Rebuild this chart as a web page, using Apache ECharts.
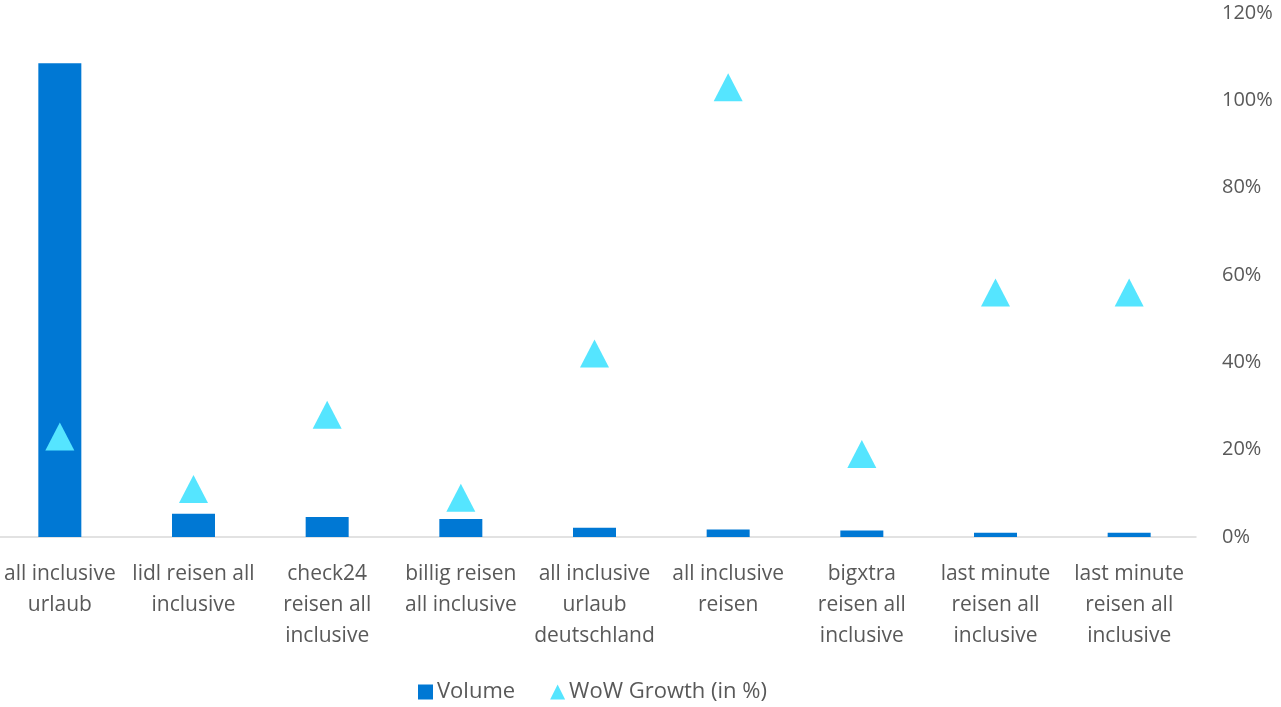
<!DOCTYPE html>
<html>
<head>
<meta charset="utf-8">
<script src="https://cdn.jsdelivr.net/npm/echarts@6/dist/echarts.min.js"></script>
<style>
  html, body { margin: 0; padding: 0; background: #fff; overflow: hidden; }
  #wrap { width: 1281px; height: 707px; position: relative; overflow: hidden; }
  /* the plot area runs slightly past the left edge, so the canvas is shifted left */
  #chart { width: 1288px; height: 707px; position: absolute; left: -7px; top: 0; }
</style>
</head>
<body>
<div id="wrap"><div id="chart"></div></div>
<script>
// Search terms (wrapped like the axis labels)
const categories = [
  'all inclusive\nurlaub',
  'lidl reisen all\ninclusive',
  'check24\nreisen all\ninclusive',
  'billig reisen\nall inclusive',
  'all inclusive\nurlaub\ndeutschland',
  'all inclusive\nreisen',
  'bigxtra\nreisen all\ninclusive',
  'last minute\nreisen all\ninclusive',
  'last minute\nreisen all\ninclusive'
];
// Search volume (left, hidden axis)
const volume = [108500, 5300, 4600, 4100, 2100, 1700, 1500, 1000, 1000];
// Week-over-week growth in percent (right axis)
const wowGrowth = [23, 11, 28, 9, 42, 103, 19, 56, 56];
const growthTicks = [0, 20, 40, 60, 80, 100, 120];

const FONT = '"Open Sans", "Noto Sans", sans-serif';
const TEXT = '#595959';

const chart = echarts.init(document.getElementById('chart'), null, { renderer: 'canvas' });
chart.setOption({
  animation: false,
  textStyle: { fontFamily: FONT },
  grid: { left: 0, right: 85, top: 13, bottom: 170, containLabel: false },
  legend: {
    top: 676,
    left: 420,
    itemGap: 35,
    itemWidth: 15,
    itemHeight: 15,
    textStyle: { fontFamily: FONT, fontSize: 22, color: TEXT, padding: [0, 0, 0, -1] },
    data: [
      { name: 'Volume', icon: 'rect' },
      { name: 'WoW Growth (in %)', icon: 'triangle' }
    ]
  },
  xAxis: {
    type: 'category',
    data: categories,
    axisLine: { lineStyle: { color: '#d9d9d9', width: 1.5 } },
    axisTick: { show: false },
    axisLabel: {
      interval: 0,
      margin: 22,
      fontFamily: FONT,
      fontSize: 21,
      lineHeight: 31,
      color: TEXT
    }
  },
  yAxis: [
    {
      type: 'value',
      min: 0,
      max: 120000,
      show: false,
      splitLine: { show: false }
    },
    {
      type: 'value',
      position: 'right',
      min: growthTicks[0],
      max: growthTicks[growthTicks.length - 1],
      interval: 20,
      axisLine: { show: false },
      axisTick: { show: false },
      splitLine: { show: false },
      axisLabel: {
        margin: 26,
        fontFamily: FONT,
        fontSize: 20,
        color: TEXT,
        formatter: '{value}%'
      }
    }
  ],
  series: [
    {
      name: 'Volume',
      type: 'bar',
      yAxisIndex: 0,
      data: volume,
      barWidth: 43,
      itemStyle: { color: '#0078D4' }
    },
    {
      name: 'WoW Growth (in %)',
      type: 'scatter',
      yAxisIndex: 1,
      data: wowGrowth,
      symbol: 'triangle',
      symbolSize: [29, 28],
      itemStyle: { color: '#55E5FF', opacity: 1 },
      z: 5
    }
  ]
});
</script>
</body>
</html>
